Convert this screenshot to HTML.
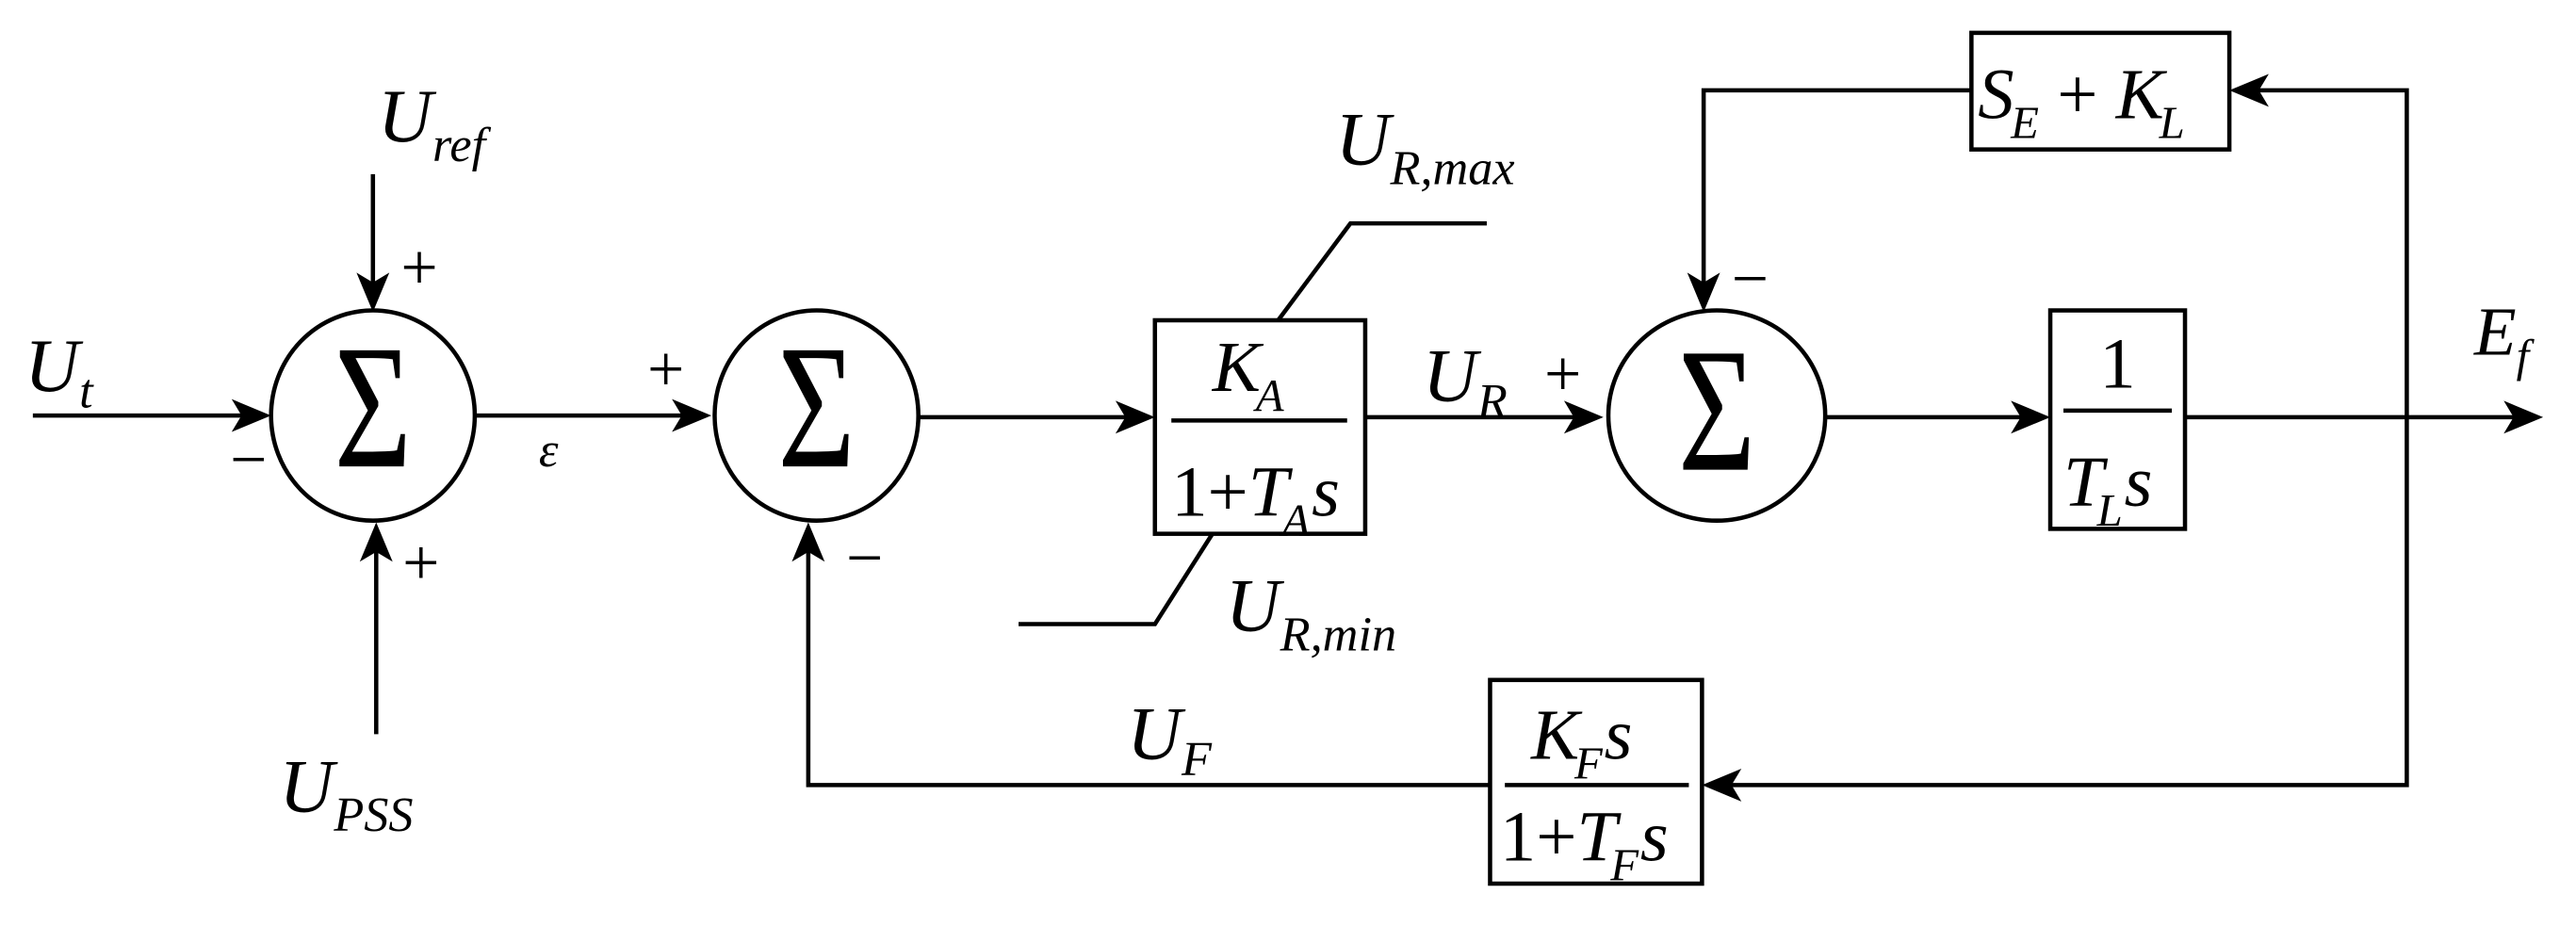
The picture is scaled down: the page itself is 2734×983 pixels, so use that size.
<!DOCTYPE html>
<html><head><meta charset="utf-8"><style>html,body{margin:0;padding:0;background:#fff}svg{display:block}</style></head>
<body>
<svg width="2734" height="983" viewBox="0 0 1568 563.8" preserveAspectRatio="none" xmlns="http://www.w3.org/2000/svg" font-family="'Liberation Serif', serif">
<g stroke="#000" stroke-width="2.6" fill="none">
<line x1="20" y1="253" x2="160" y2="253"/>
<line x1="227" y1="106" x2="227" y2="185"/>
<line x1="229" y1="447" x2="229" y2="323"/>
<line x1="289" y1="253" x2="428" y2="253"/>
<line x1="560" y1="254" x2="698" y2="254"/>
<rect x="703" y="195" width="128" height="130"/>
<polyline points="778,195 822,136 905,136"/>
<polyline points="738,325 703,380 620,380"/>
<line x1="831" y1="254" x2="971" y2="254"/>
<line x1="1110" y1="254" x2="1242" y2="254"/>
<rect x="1248" y="189" width="82" height="133"/>
<line x1="1330" y1="254" x2="1540" y2="254"/>
<polyline points="1465,254 1465,55 1362,55"/>
<rect x="1200" y="20" width="157" height="71"/>
<polyline points="1200,55 1037,55 1037,185"/>
<polyline points="1465,254 1465,478 1041,478"/>
<rect x="907" y="414" width="129" height="124"/>
<polyline points="907,478 492,478 492,323"/>
<ellipse cx="227" cy="253" rx="62" ry="64"/>
<ellipse cx="497" cy="253" rx="62" ry="64"/>
<ellipse cx="1045" cy="253" rx="66" ry="64"/>
<line x1="713" y1="256" x2="820" y2="256"/>
<line x1="1256" y1="250" x2="1322" y2="250"/>
<line x1="916" y1="478" x2="1028" y2="478"/>
</g>
<g fill="#000">
<polygon points="165,253 141,243 147,253 141,263"/>
<polygon points="433,253 409,243 415,253 409,263"/>
<polygon points="703,254 679,244 685,254 679,264"/>
<polygon points="976,254 952,244 958,254 952,264"/>
<polygon points="1248,254 1224,244 1230,254 1224,264"/>
<polygon points="1548,254 1524,244 1530,254 1524,264"/>
<polygon points="227,190 217,166 227,172 237,166"/>
<polygon points="1037,190 1027,166 1037,172 1047,166"/>
<polygon points="229,318 219,342 229,336 239,342"/>
<polygon points="492,318 482,342 492,336 502,342"/>
<polygon points="1357,55 1381,45 1375,55 1381,65"/>
<polygon points="1036,478 1060,468 1054,478 1060,488"/>
</g>
<g font-size="90" text-anchor="middle">
<text transform="translate(227,284) scale(0.9,1.2)">Σ</text>
<text transform="translate(497,284) scale(0.9,1.2)">Σ</text>
<text transform="translate(1045,286) scale(0.9,1.2)">Σ</text>
</g>
<g font-size="40">
<text x="244" y="176">+</text>
<text x="245" y="356">+</text>
<text x="394" y="238">+</text>
<text x="940" y="241">+</text>
<text x="140" y="293">−</text>
<text x="515" y="353">−</text>
<text x="1054" y="183">−</text>
</g>
<g font-style="italic" font-size="46">
<text x="15" y="238">U<tspan font-size="30" dy="10">t</tspan></text>
<text x="230" y="86">U<tspan font-size="30" dy="12">ref</tspan></text>
<text x="170" y="494">U<tspan font-size="30" dy="12">PSS</tspan></text>
<text x="328" y="284" font-size="30">ε</text>
<text x="813" y="100">U<tspan font-size="30" dy="12">R,max</tspan></text>
<text x="746" y="384">U<tspan font-size="30" dy="12">R,min</tspan></text>
<text x="866" y="244">U<tspan font-size="30" dy="10">R</tspan></text>
<text x="1506" y="216" font-size="42">E<tspan font-size="28" dy="10">f</tspan></text>
<text x="686" y="462">U<tspan font-size="30" dy="10">F</tspan></text>
</g>
<g font-style="italic" font-size="44">
<text x="738" y="238">K<tspan font-size="28" dy="12" dx="-3">A</tspan></text>
<text x="713" y="314"><tspan font-style="normal">1+</tspan>T<tspan font-size="28" dy="12" dx="-4">A</tspan><tspan dy="-12" dx="1">s</tspan></text>
<text x="1278" y="236" font-style="normal">1</text>
<text x="1256" y="308">T<tspan font-size="28" dy="12" dx="-4">L</tspan><tspan dy="-12" dx="1">s</tspan></text>
<text x="1204" y="72">S<tspan font-size="28" dy="12" dx="-2">E</tspan><tspan dy="-12" font-style="normal"> + </tspan>K<tspan font-size="28" dy="12" dx="-3">L</tspan></text>
<text x="932" y="462">K<tspan font-size="28" dy="12" dx="-3">F</tspan><tspan dy="-12" dx="1">s</tspan></text>
<text x="913" y="524"><tspan font-style="normal">1+</tspan>T<tspan font-size="28" dy="12" dx="-4">F</tspan><tspan dy="-12" dx="1">s</tspan></text>
</g>
</svg>
</body></html>
